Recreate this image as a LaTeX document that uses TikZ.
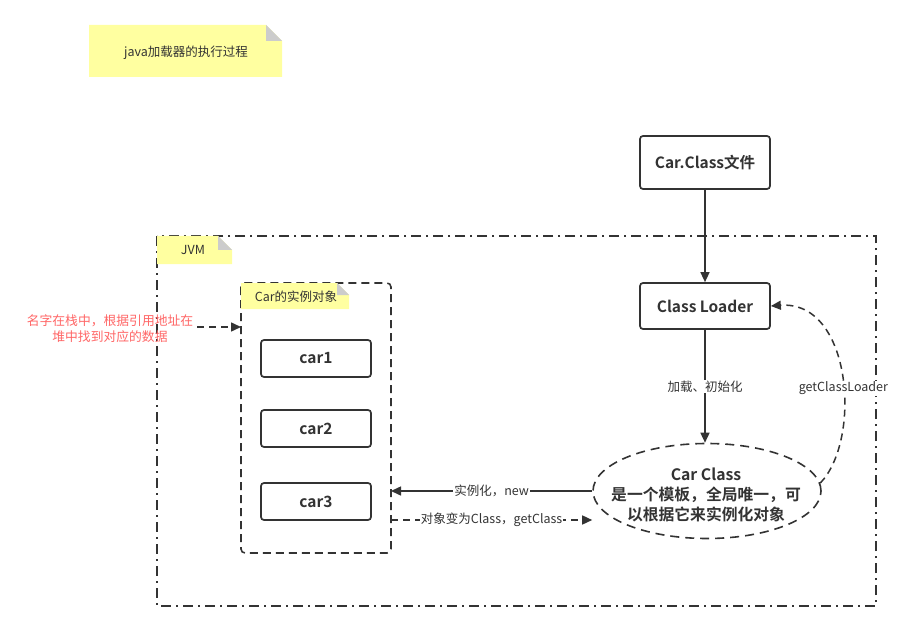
\documentclass[tikz,border=0pt]{standalone}
\usepackage{fontspec}
\setmainfont{Noto Sans CJK SC}
\newfontfamily\cjkb{Noto Sans CJK SC Bold}
\usetikzlibrary{shapes.geometric,arrows.meta}
\definecolor{ln}{HTML}{333333}
\definecolor{notey}{HTML}{FFFFA0}
\definecolor{fold}{HTML}{CCCCCC}
\definecolor{redt}{HTML}{FF6666}
\tikzset{
  x=1pt,y=-1pt,
  boxst/.style={draw=ln,line width=1.7pt,rounded corners=3pt,fill=white,text=ln,font=\cjkb\fontsize{15.5}{17}\selectfont,inner sep=0pt},
  conn/.style={draw=ln,line width=1.5pt,-{Triangle[length=10pt,width=9pt]}},
  dconn/.style={conn,dash pattern=on 7pt off 5pt},
  lbl/.style={fill=white,text=ln,font=\fontsize{12.5}{14}\selectfont,inner sep=1pt},
  notetxt/.style={text=ln,font=\fontsize{12.5}{14}\selectfont}
}
\newcommand{\notebox}[5]{% x1 y1 x2 y2 fold
  \fill[notey] (#1,#2) -- (#3-#5,#2) -- (#3,#2+#5) -- (#3,#4) -- (#1,#4) -- cycle;
  \fill[fold] (#3-#5,#2) -- (#3,#2+#5) -- (#3-#5,#2+#5) -- cycle;
}
\begin{document}
\begin{tikzpicture}
\useasboundingbox[fill=white] (0,0) rectangle (905,631);
% title note
\notebox{89}{25}{282}{77}{16}
\node[notetxt] (title) at (186,53) {java加载器的执行过程};
% JVM frame
\draw[ln,line width=1.6pt,dash pattern=on 10pt off 5pt on 2pt off 5pt] (157,236) rectangle (876,606);
\notebox{157}{236}{232}{264}{14}
\node[notetxt] (jvm) at (193,250) {JVM};
% instance container
\draw[ln,line width=1.6pt,dash pattern=on 8pt off 5pt,rounded corners=4pt] (241,283) rectangle (391,553);
\notebox{241}{283}{349}{309}{12}
\node[notetxt] (inst) at (296,297) {Car的实例对象};
\coordinate (instL) at (241,327);
\coordinate (instR1) at (391,491);
\coordinate (instR2) at (391,520);
% boxes
\node[boxst,minimum width=130pt,minimum height=53pt] (file) at (705,162.5) {Car.Class文件};
\node[boxst,minimum width=130pt,minimum height=46pt] (loader) at (705,306) {Class Loader};
\node[boxst,minimum width=110pt,minimum height=37pt] (car1) at (316,358.5) {car1};
\node[boxst,minimum width=110pt,minimum height=37pt] (car2) at (316,428.5) {car2};
\node[boxst,minimum width=110pt,minimum height=37pt] (car3) at (316,501.5) {car3};
% ellipse
\node[ellipse,draw=ln,line width=1.6pt,dash pattern=on 9pt off 6pt,minimum width=228pt,minimum height=95pt,inner sep=0pt] (cls) at (707,491) {};
\node[text=ln,align=center,font=\cjkb\fontsize{15.8}{20}\selectfont] (clstext) at (706,495) {Car Class\\是一个模板，全局唯一，可\\以根据它来实例化对象};
% red text
\node[text=redt,align=center,font=\fontsize{12.8}{16}\selectfont] (red) at (110,329) {名字在栈中，根据引用地址在\\堆中找到对应的数据};
\coordinate (redR) at (197,327);
% connectors
\draw[conn] (file) -- (loader);
\draw[conn] (loader) -- node[lbl]{加载、初始化} (cls.north -| loader);
\draw[conn] (cls.west |- instR1) -- node[lbl,pos=0.5]{实例化，new} (instR1);
\draw[dconn] (instR2) -- node[lbl,pos=0.5]{对象变为Class，getClass} (cls.west |- instR2);
\draw[dconn] (redR) -- (instL);
\draw[dconn] (cls.4) .. controls (862,440) and (852,300) .. node[lbl,pos=0.45]{getClassLoader} (loader.east);
\end{tikzpicture}
\end{document}
